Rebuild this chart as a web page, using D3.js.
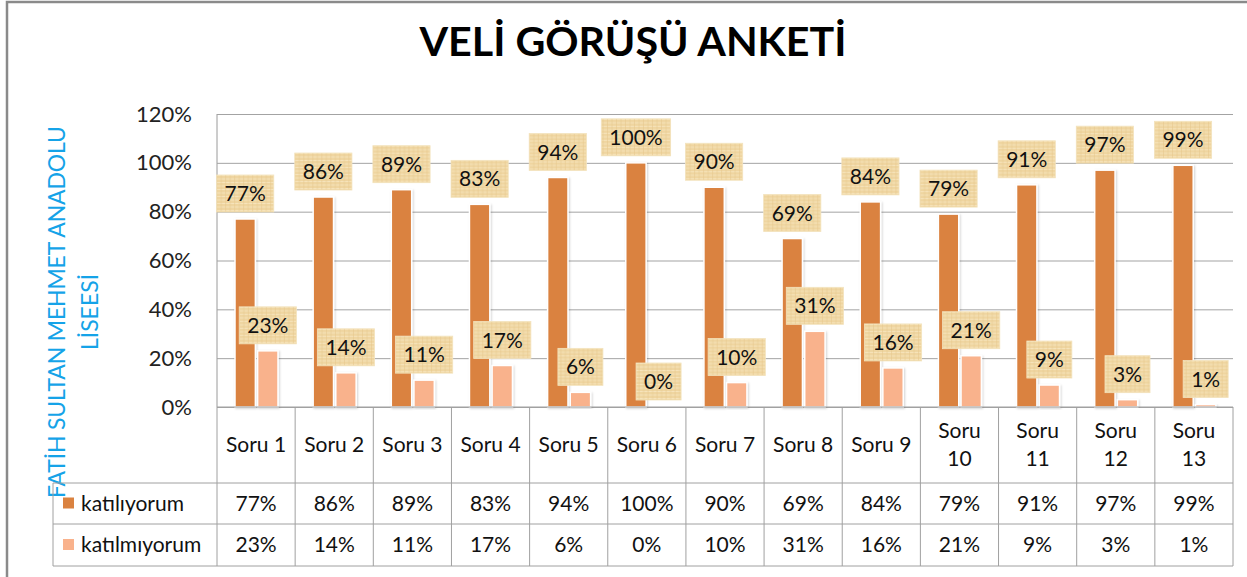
<!DOCTYPE html>
<html>
<head>
<meta charset="utf-8">
<script src="https://cdn.jsdelivr.net/npm/d3@7"></script>
<style>
  body { margin: 0; background: #fff; }
  text { font-family: Lato, "Liberation Sans", sans-serif; }
</style>
</head>
<body>
<div id="chart"></div>
<script>
// data
var questions = ["Soru 1", "Soru 2", "Soru 3", "Soru 4", "Soru 5", "Soru 6", "Soru 7",
                 "Soru 8", "Soru 9", "Soru 10", "Soru 11", "Soru 12", "Soru 13"];
var seriesNames = ["katılıyorum", "katılmıyorum"];
var agree = [77, 86, 89, 83, 94, 100, 90, 69, 84, 79, 91, 97, 99];
var disagree = [23, 14, 11, 17, 6, 0, 10, 31, 16, 21, 9, 3, 1];
var yTicks = [0, 20, 40, 60, 80, 100, 120];

var seriesValues = [agree, disagree];
var colors = ["#DA8240", "#F9B28C"];

var width = 1247, height = 577;
var plot = {left: 217, right: 1233, top: 114, bottom: 407};
var rowY = [407, 483, 524, 566]; // table row edges
var legendLeft = 53;

var svg = d3.select("#chart").append("svg")
    .attr("width", width)
    .attr("height", height);

var defs = svg.append("defs");

// parchment-ish fill for the data labels
var pat = defs.append("pattern")
    .attr("id", "parch")
    .attr("patternUnits", "userSpaceOnUse")
    .attr("width", 9).attr("height", 7);
pat.append("rect").attr("width", 9).attr("height", 7).attr("fill", "#EFD5A0");
pat.append("path").attr("d", "M0,2H9M0,5.5H9").attr("stroke", "#F6E3BA").attr("stroke-width", 1);
pat.append("path").attr("d", "M3,0V7M7.5,0V7").attr("stroke", "#E4C68C").attr("stroke-width", 0.8).attr("opacity", 0.7);

var shadow = defs.append("filter").attr("id", "shadow")
    .attr("x", "-30%").attr("y", "-10%").attr("width", "160%").attr("height", "120%");
shadow.append("feDropShadow")
    .attr("dx", 1).attr("dy", 1).attr("stdDeviation", 1.2)
    .attr("flood-color", "#000").attr("flood-opacity", 0.18);

// outer frame
svg.append("rect")
    .attr("x", 7).attr("y", 2)
    .attr("width", width + 20).attr("height", height + 20)
    .attr("fill", "none")
    .attr("stroke", "#8a8a8a")
    .attr("stroke-width", 2.5);

// title
svg.append("text")
    .attr("x", 633).attr("y", 56)
    .attr("text-anchor", "middle")
    .style("font-size", "40px")
    .style("font-weight", "bold")
    .style("fill", "#000")
    .attr("textLength", 427)
    .attr("lengthAdjust", "spacingAndGlyphs")
    .text("VELİ GÖRÜŞÜ ANKETİ");

// y axis title
var yTitle = svg.append("text")
    .attr("transform", "translate(57,312) rotate(-90)")
    .attr("text-anchor", "middle")
    .style("font-size", "23px")
    .style("fill", "#15A3E8");
yTitle.append("tspan").attr("x", 0).attr("dy", "0.35em")
    .attr("textLength", 372).attr("lengthAdjust", "spacing")
    .text("FATİH SULTAN MEHMET ANADOLU");
yTitle.append("tspan").attr("x", 0).attr("dy", "1.45em").text("LİSEESİ");

// scales
var x = d3.scaleBand()
    .domain(questions)
    .range([plot.left, plot.right])
    .padding(0);

var xInner = d3.scaleBand()
    .domain(seriesNames)
    .range([18, 61])
    .paddingInner(0.1);

var y = d3.scaleLinear()
    .domain([0, 120])
    .range([plot.bottom, plot.top]);

// gridlines + axis
var yAxis = svg.append("g")
    .attr("transform", "translate(" + plot.left + ",0)")
    .call(d3.axisLeft(y).tickValues(yTicks)
        .tickFormat(function (d) { return d + "%"; })
        .tickSize(-(plot.right - plot.left))
        .tickPadding(25));
yAxis.select(".domain").attr("stroke", "#9a9a9a").attr("d", "M0," + plot.top + "V" + plot.bottom);
yAxis.selectAll(".tick line").attr("stroke", "#a3a3a3");
yAxis.selectAll(".tick text")
    .style("font-size", "22px")
    .style("fill", "#222")
    .style("font-family", "Lato, sans-serif");

// bars
var groups = svg.selectAll(".grp")
    .data(questions)
    .enter().append("g")
    .attr("class", "grp")
    .attr("transform", function (d) { return "translate(" + x(d) + ",0)"; });

seriesNames.forEach(function (s, si) {
    groups.append("rect")
        .attr("x", xInner(s))
        .attr("y", function (d, i) { return y(seriesValues[si][i]); })
        .attr("width", xInner.bandwidth())
        .attr("height", function (d, i) { return plot.bottom - y(seriesValues[si][i]); })
        .attr("fill", colors[si])
        .attr("stroke", "#fff")
        .attr("stroke-width", 1.5)
        .attr("filter", "url(#shadow)");
});

// data labels
seriesNames.forEach(function (s, si) {
    var lab = groups.append("g")
        .attr("transform", function (d, i) {
            var cx = xInner(s) + xInner.bandwidth() / 2;
            return "translate(" + cx + "," + (y(seriesValues[si][i]) - 7) + ")";
        });
    lab.append("text")
        .attr("x", 0).attr("y", -18.5)
        .attr("dy", "0.36em")
        .attr("text-anchor", "middle")
        .style("font-size", "21px")
        .style("fill", "#111")
        .text(function (d, i) { return seriesValues[si][i] + "%"; });
    lab.insert("rect", "text")
        .attr("x", function () {
            var w = this.parentNode.querySelector("text").getComputedTextLength();
            return -(w / 2 + 8);
        })
        .attr("y", -37)
        .attr("width", function () {
            return this.parentNode.querySelector("text").getComputedTextLength() + 16;
        })
        .attr("height", 37)
        .attr("fill", "url(#parch)")
        .attr("stroke", "#f3e3bd")
        .attr("stroke-width", 0.8);
});

// data table
var table = svg.append("g").attr("class", "datatable");
var gridColor = "#a0a0a0";

// horizontal lines
table.append("line")
    .attr("x1", plot.left).attr("x2", plot.right)
    .attr("y1", rowY[0]).attr("y2", rowY[0])
    .attr("stroke", gridColor);
[rowY[1], rowY[2], rowY[3]].forEach(function (yy) {
    table.append("line")
        .attr("x1", legendLeft).attr("x2", plot.right)
        .attr("y1", yy).attr("y2", yy)
        .attr("stroke", gridColor);
});
// vertical lines
table.append("line")
    .attr("x1", legendLeft).attr("x2", legendLeft)
    .attr("y1", rowY[1]).attr("y2", rowY[3])
    .attr("stroke", gridColor);
questions.concat(["end"]).forEach(function (q, i) {
    var xx = i < questions.length ? x(q) : plot.right;
    table.append("line")
        .attr("x1", xx).attr("x2", xx)
        .attr("y1", rowY[0]).attr("y2", rowY[3])
        .attr("stroke", gridColor);
});

// header cells
questions.forEach(function (q) {
    var cx = x(q) + x.bandwidth() / 2;
    var t = table.append("text")
        .attr("text-anchor", "middle")
        .style("font-size", "21px")
        .style("fill", "#111");
    var parts = q.split(" ");
    if (parts[1].length > 1) {
        t.append("tspan").attr("x", cx).attr("y", 438).text(parts[0]);
        t.append("tspan").attr("x", cx).attr("y", 466).text(parts[1]);
    } else {
        t.attr("x", cx).attr("y", 452).text(q);
    }
});

// value rows + legend
seriesNames.forEach(function (s, si) {
    var cy = (rowY[si + 1] + rowY[si + 2]) / 2;
    table.append("rect")
        .attr("x", 63).attr("y", cy - 6)
        .attr("width", 11).attr("height", 11)
        .attr("fill", colors[si]);
    table.append("text")
        .attr("x", 81).attr("y", cy)
        .attr("dy", "0.35em")
        .style("font-size", "21px")
        .style("fill", "#111")
        .text(s);
    questions.forEach(function (q, i) {
        table.append("text")
            .attr("x", x(q) + x.bandwidth() / 2)
            .attr("y", cy)
            .attr("dy", "0.35em")
            .attr("text-anchor", "middle")
            .style("font-size", "21px")
            .style("fill", "#111")
            .text(seriesValues[si][i] + "%");
    });
});
</script>
</body>
</html>
